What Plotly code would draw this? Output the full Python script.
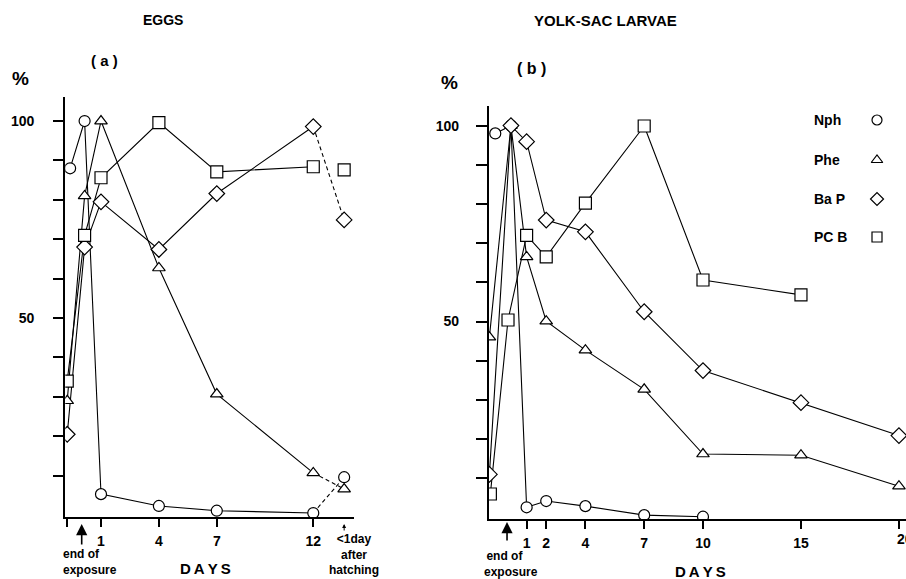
import plotly.graph_objects as go

W, H = 906, 579

# ---------------- Panel (a): EGGS ----------------
eggs_days = [-0.75, 0.15, 1, 4, 7, 12]
eggs_nph_days = [-0.6, 0.15, 1, 4, 7, 12]
eggs_hatch_day = 13.6
eggs_nph = [88, 100, 5.3, 2.3, 1.1, 0.5]
eggs_phe = [29, 81, 100, 62.7, 30.7, 10.7]
eggs_bap = [20.5, 68, 79.5, 67.4, 81.6, 98.6]
eggs_pcb = [34, 71, 85.6, 99.6, 87.1, 88.4]
eggs_hatch_nph = 9.6
eggs_hatch_phe = 6.6
eggs_hatch_bap = 74.9
eggs_hatch_pcb = 87.6

eggs_tickvals = [-0.75, 1, 4, 7, 12]
eggs_ticktext = ["", "1", "4", "7", "12"]

# ---------------- Panel (b): YOLK-SAC LARVAE ----------------
yolk_days = [-0.9, 0.2, 1, 2, 4, 7, 10, 15, 20]
yolk_nph_days = [-0.6, 0.2, 1, 2, 4, 7, 10]
yolk_pcb_days = [-0.85, 0.05, 1, 2, 4, 7, 10, 15]
yolk_nph = [98, 100, 2.6, 4.2, 2.9, 0.6, 0.2]
yolk_phe = [46, 100, 66.5, 50.1, 42.7, 32.7, 16.2, 15.9, 8]
yolk_bap = [11, 100, 95.9, 75.9, 72.9, 52.5, 37.5, 29.3, 20.9]
yolk_pcb = [6, 50.4, 72, 66.5, 80.2, 99.9, 60.6, 56.8]

yolk_tickvals = [-1, 1, 2, 4, 7, 10, 15, 20]
yolk_ticktext = ["", "1", "2", "4", "7", "10", "15", ""]
yolk_edge_tick = (20, "20")   # label at the clipped right edge

pct_tickvals = [10, 20, 30, 40, 50, 60, 70, 80, 90, 100]
pct_ticktext = ["", "", "", "", "50", "", "", "", "", "100"]

legend_names = ["Nph", "Phe", "Ba P", "PC B"]
symbols = {"Nph": "circle", "Phe": "triangle-up", "Ba P": "diamond", "PC B": "square"}
msize = {"Nph": 11, "Phe": 11, "Ba P": 12, "PC B": 12}

FONT = "Liberation Sans, Arial, Helvetica, sans-serif"


def line_trace(x, y, xa, ya, dash="solid"):
    return go.Scatter(x=x, y=y, mode="lines", xaxis=xa, yaxis=ya,
                      line=dict(color="black", width=1.1, dash=dash),
                      hoverinfo="skip", showlegend=False)


def marker_trace(x, y, name, xa, ya, size=None):
    return go.Scatter(x=x, y=y, mode="markers", xaxis=xa, yaxis=ya, name=name,
                      marker=dict(symbol=symbols[name], size=size or msize[name],
                                  color="white", line=dict(color="black", width=1.2)),
                      showlegend=False)


fig = go.Figure()

# ---- panel (a) lines ----
eggs_series = [("Nph", eggs_nph_days, eggs_nph, eggs_hatch_nph, True),
               ("Phe", eggs_days, eggs_phe, eggs_hatch_phe, True),
               ("Ba P", eggs_days, eggs_bap, eggs_hatch_bap, True),
               ("PC B", eggs_days, eggs_pcb, eggs_hatch_pcb, False)]
for name, xs, ys, hv, dashed in eggs_series:
    fig.add_trace(line_trace(xs, ys, "x", "y"))
    if dashed:
        fig.add_trace(line_trace([xs[-1], eggs_hatch_day], [ys[-1], hv], "x", "y", dash="4px,3px"))

# ---- panel (b) lines ----
yolk_series = [("Nph", yolk_nph_days, yolk_nph),
               ("Phe", yolk_days, yolk_phe),
               ("Ba P", yolk_days, yolk_bap),
               ("PC B", yolk_pcb_days, yolk_pcb)]
for name, xs, ys in yolk_series:
    fig.add_trace(line_trace(xs, ys, "x2", "y2"))

# ---- markers on top ----
for name, xs, ys, hv, dashed in eggs_series:
    fig.add_trace(marker_trace(list(xs) + [eggs_hatch_day], list(ys) + [hv], name, "x", "y"))
for name, xs, ys in yolk_series:
    fig.add_trace(marker_trace(xs, ys, name, "x2", "y2"))

# ---- legend (overlay pixel axes) ----
leg_y = [120, 160, 199, 237]
for name, yy in zip(legend_names, leg_y):
    fig.add_trace(marker_trace([877], [yy], name, "x3", "y3", size=10))


def px(x, y):
    return x / W, 1 - y / H


annotations = []


def text(x, y, s, size=13, xanchor="center", yanchor="middle", align="center"):
    xx, yy = px(x, y)
    annotations.append(dict(x=xx, y=yy, xref="paper", yref="paper", text=s,
                            showarrow=False, xanchor=xanchor, yanchor=yanchor, align=align,
                            font=dict(family=FONT, size=size, color="black", weight="bold")))


text(163, 20, "EGGS", 14)
text(605, 20, "YOLK-SAC LARVAE", 15)
text(104, 60, "( a )", 15)
text(531, 68, "( b )", 16)
text(20, 78, "%", 19)
text(449, 82, "%", 19)
# end-of-exposure labels (two-line blocks, left aligned)
text(61, 545, "end of<br>exposure", 12, xanchor="left", yanchor="top", align="left")
text(482, 547, "\u2009end of<br>exposure", 12, xanchor="left", yanchor="top", align="left")
text(205, 568, "D\u2009A\u2009Y\u2009S", 15)
text(700, 571, "D\u2009A\u2009Y\u2009S", 15)
text(354, 530, "<1day<br>after<br>hatching", 12, yanchor="top")
for name, yy in zip(legend_names, leg_y):
    text(812, yy, name, 14, xanchor="left")

# clipped "20" tick label at right edge of panel (b)
annotations.append(dict(x=yolk_edge_tick[0], xref="x2", y=px(0, 539)[1], yref="paper",
                        text=yolk_edge_tick[1], showarrow=False, xanchor="left", yanchor="middle",
                        xshift=-4,
                        font=dict(family=FONT, size=14, color="black", weight="bold")))

# arrows
annotations.append(dict(x=0, xref="x", y=px(0, 524)[1], yref="paper", text="", showarrow=True,
                        ax=0, ay=22, arrowhead=2, arrowsize=1.4, arrowwidth=1.6, arrowcolor="black"))
annotations.append(dict(x=0, xref="x2", y=px(0, 522)[1], yref="paper", text="", showarrow=True,
                        ax=0, ay=20, arrowhead=2, arrowsize=1.4, arrowwidth=1.6, arrowcolor="black"))
annotations.append(dict(x=eggs_hatch_day, xref="x", y=px(0, 524)[1], yref="paper", text="", showarrow=True,
                        ax=0, ay=8, arrowhead=2, arrowsize=0.8, arrowwidth=1, arrowcolor="black"))

axis_common = dict(showgrid=False, zeroline=False, showline=True, linecolor="black",
                   ticks="outside", tickcolor="black", automargin=False,
                   tickfont=dict(family=FONT, size=14, color="black", weight="bold"))

fig.update_layout(
    width=W, height=H, margin=dict(l=0, r=0, t=0, b=0),
    template="none", paper_bgcolor="white", plot_bgcolor="rgba(0,0,0,0)",
    showlegend=False,
    font=dict(family=FONT, size=13, color="black", weight="bold"),
    xaxis=dict(domain=[65.3 / W, 353.8 / W], range=[-0.85, 14.1], anchor="y",
               tickvals=eggs_tickvals, ticktext=eggs_ticktext, ticklen=8, tickwidth=1.5,
               linewidth=2, ticklabelstandoff=2, **axis_common),
    yaxis=dict(domain=[1 - 517 / H, 1 - 97 / H], range=[-0.5, 106.1], anchor="x",
               tickvals=pct_tickvals, ticktext=pct_ticktext, ticklen=10, tickwidth=1.5,
               linewidth=2.2, ticklabelstandoff=16, **axis_common),
    xaxis2=dict(domain=[489 / W, 1.0], range=[-0.92, 20.36], anchor="y2",
                tickvals=yolk_tickvals, ticktext=yolk_ticktext, ticklen=8, tickwidth=1.5,
                linewidth=2, ticklabelstandoff=2, **axis_common),
    yaxis2=dict(domain=[1 - 519.3 / H, 1 - 106 / H], range=[-0.46, 105.0], anchor="x2",
                tickvals=pct_tickvals, ticktext=pct_ticktext, ticklen=11, tickwidth=1.5,
                linewidth=2.2, ticklabelstandoff=14, **axis_common),
    xaxis3=dict(domain=[0, 1], range=[0, W], anchor="y3", visible=False, fixedrange=True),
    yaxis3=dict(domain=[0, 1], range=[H, 0], anchor="x3", visible=False, fixedrange=True),
    annotations=annotations,
)

fig.write_html("out.html", config={"displayModeBar": False},
               post_script="document.body.style.margin='0';document.body.style.overflow='hidden';")
